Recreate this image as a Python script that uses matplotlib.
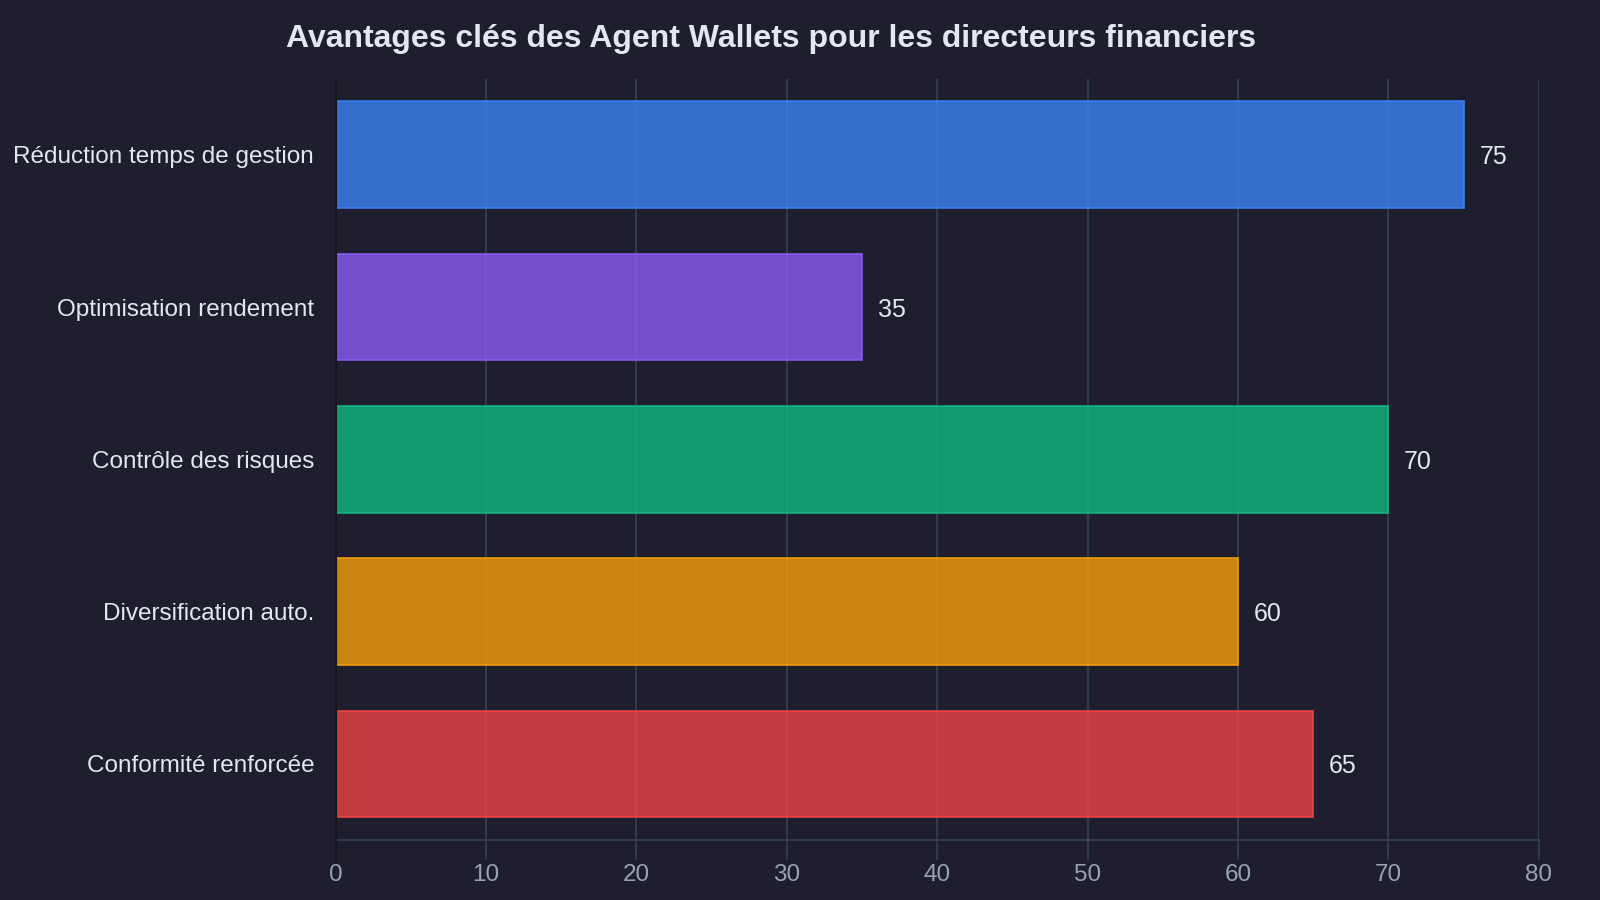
import matplotlib
matplotlib.use("Agg")
import matplotlib.pyplot as plt

categories = ["Réduction temps de gestion", "Optimisation rendement", "Contrôle des risques",
              "Diversification auto.", "Conformité renforcée"]
values = [75, 35, 70, 60, 65]
colors = ["#3b82f6", "#8b5cf6", "#10b981", "#f59e0b", "#ef4444"]
xticks = [0, 10, 20, 30, 40, 50, 60, 70, 80]
title = "Avantages clés des Agent Wallets pour les directeurs financiers"

BG = "#1e1e2e"
GRID = "#334155"

plt.rcParams['font.family'] = ['Liberation Sans', 'DejaVu Sans']

fig = plt.figure(figsize=(16, 9), dpi=100, facecolor=BG)
ax = fig.add_axes([335.7 / 1600, 1 - 840 / 900, (1538.8 - 335.7) / 1600, (840 - 78.6) / 900])
ax.set_facecolor(BG)

ypos = list(range(len(categories)))
ax.barh(ypos, values, height=0.7, color=colors, alpha=0.8, edgecolor=colors, linewidth=1.4, zorder=2)
for y, v in zip(ypos, values):
    ax.text(v + 1.05, y, str(v), va="center_baseline", ha="left", fontsize=18, color="#e2e8f0")

ax.set_ylim(4.5, -0.5)
ax.set_xlim(0, 80)
ax.set_yticks(ypos)
ax.set_yticklabels(categories)
ax.set_xticks(xticks)
ax.set_xticklabels([str(t) for t in xticks])

ax.set_axisbelow(True)
ax.grid(axis="x", color=GRID, linewidth=1.2)
ax.grid(axis="y", visible=False)
for s in ["top", "right"]:
    ax.spines[s].set_visible(False)
ax.spines["bottom"].set_color(GRID)
ax.spines["bottom"].set_linewidth(1.2)
ax.spines["left"].set_visible(False)
ax.plot([0, 0], [-0.027, 1], transform=ax.get_xaxis_transform(), color="#15151f",
        linewidth=1.5, clip_on=False, zorder=3)

ax.tick_params(axis="x", colors=GRID, length=14.5, width=1.2, labelsize=17.5,
               labelcolor="#94a3b8", pad=3)
ax.tick_params(axis="y", length=0, pad=15.5, labelsize=17.5, labelcolor="#e2e8f0")

fig.text(0.482, 1 - 39 / 900, title, ha="center", va="center", fontsize=23,
         fontweight="bold", color="#e2e8f0")

fig.savefig("out.png", dpi=100, facecolor=BG)
